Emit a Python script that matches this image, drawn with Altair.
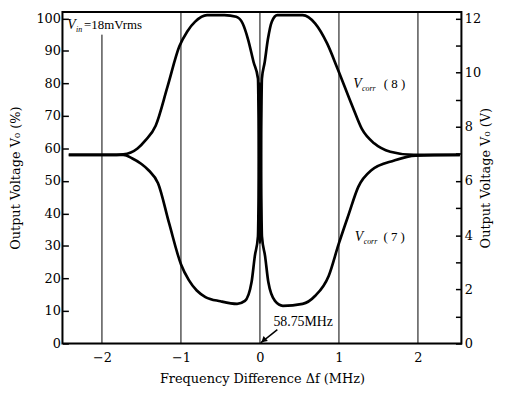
import altair as alt
import pandas as pd

# ---- data ----
f_upper = [-2.42, -1.9, -1.73, -1.55, -1.45, -1.32, -1.17, -1.02, -0.92, -0.82, -0.67, -0.45, -0.3,
           -0.22, -0.15, -0.08, -0.025, 0.0, 0.025, 0.06, 0.1, 0.15, 0.22, 0.54, 0.7, 0.85, 0.98,
           1.17, 1.29, 1.45, 1.65, 1.95, 2.53]
v_upper = [58, 58, 58.2, 60, 62.5, 67, 79, 91.4, 96, 99, 101, 101, 100.5,
           98.5, 93.5, 86.5, 81.5, 31, 81.5, 86.5, 93.5, 99, 101, 101, 98.4, 92.3, 84.7,
           73, 66, 61.5, 59, 58, 58]

f_lower = [-2.42, -1.9, -1.73, -1.62, -1.5, -1.41, -1.29, -1.15, -1.0, -0.9, -0.8, -0.69, -0.5, -0.29,
           -0.19, -0.106, -0.065, -0.025, 0.0, 0.025, 0.065, 0.106, 0.19, 0.29, 0.54, 0.7, 0.87,
           0.995, 1.12, 1.245, 1.41, 1.7, 1.97, 2.53]
v_lower = [58, 58, 58, 57, 55.2, 53.3, 49.3, 37, 24.4, 19.5, 16.3, 14.3, 13, 12.2,
           13.1, 18.9, 26.9, 33, 80, 33, 26.9, 18.9, 13.1, 11.6, 12.2, 14.7, 20.8,
           30.5, 39.5, 48.2, 53.3, 56.3, 57.8, 58]

grid_f = [-2, -1, 0, 1, 2]
grid_top = [95, 102, 102, 102, 102]

x_ticks = [-2, -1, 0, 1, 2]
pct_ticks = list(range(0, 101, 10))
volt_ticks = list(range(0, 13))
x_domain = [-2.5, 2.55]
y_domain = [0, 102]

SERIF = "DejaVu Serif"
TSERIF = "Liberation Serif"

xscale = alt.Scale(domain=x_domain, nice=False, zero=False)
yscale = alt.Scale(domain=y_domain, nice=False, zero=False)

xaxis = alt.Axis(
    values=x_ticks, tickSize=0, domain=False, grid=False, labelFont=SERIF, labelFontSize=13,
    labelColor="black", labelPadding=8, title="Frequency Difference Δf (MHz)",
    titleFont=SERIF, titleFontSize=13, titleFontWeight="normal", titleColor="black",
    titlePadding=8)
yaxis = alt.Axis(
    values=pct_ticks, orient="left", offset=-6, tickSize=6, tickWidth=1.5, tickColor="black",
    domain=False, grid=False, labelFont=SERIF, labelFontSize=13, labelColor="black",
    labelPadding=2, title="Output Voltage V₀ (%)", titleFont=SERIF, titleFontSize=13,
    titleFontWeight="normal", titleColor="black", titlePadding=14)

X = lambda f: alt.X(f, scale=xscale, axis=xaxis)
Y = lambda f: alt.Y(f, scale=yscale, axis=yaxis)

df = pd.concat([
    pd.DataFrame({"x": f_upper, "y": v_upper, "s": "8"}),
    pd.DataFrame({"x": f_lower, "y": v_lower, "s": "7"}),
])

curves = alt.Chart(df).mark_line(color="black", strokeWidth=2.7, interpolate="monotone").encode(
    x=X("x:Q"), y=Y("y:Q"), detail="s:N",
)

grid_df = pd.DataFrame({"x": grid_f, "y": [0] * len(grid_f), "y1": grid_top})
grid = alt.Chart(grid_df).mark_rule(color="black", strokeWidth=1).encode(
    x=X("x:Q"), y=Y("y:Q"), y2="y1:Q",
)

frame_df = pd.DataFrame({"x": [x_domain[0]], "x2": [x_domain[1]], "y": [y_domain[0]], "y2": [y_domain[1]]})
frame = alt.Chart(frame_df).mark_rect(fill=None, stroke="black", strokeWidth=2).encode(
    x=X("x:Q"), x2="x2:Q", y=Y("y:Q"), y2="y2:Q",
)


def txt(xv, yv, t, size=13, italic=False, dx=0, dy=0, font=TSERIF):
    return alt.Chart(pd.DataFrame({"x": [xv], "y": [yv], "t": [t]})).mark_text(
        align="left", baseline="alphabetic", fontSize=size, font=font,
        fontStyle="italic" if italic else "normal", dx=dx, dy=dy, color="black"
    ).encode(x=X("x:Q"), y=Y("y:Q"), text="t:N")


annots = [
    txt(-2.44, 96.8, "V", 14, True),
    txt(-2.44, 96.8, "in", 8, True, dx=9, dy=3),
    txt(-2.44, 96.8, "=18mVrms", 13, dx=17),
    txt(1.18, 78.6, "V", 14, True),
    txt(1.18, 78.6, "corr", 8, True, dx=9, dy=3),
    txt(1.18, 78.6, "( 8 )", 13, dx=31),
    txt(1.2, 31.4, "V", 14, True),
    txt(1.2, 31.4, "corr", 8, True, dx=9, dy=3),
    txt(1.2, 31.4, "( 7 )", 13, dx=29),
    txt(0.17, 5.5, "58.75MHz", 14),
]

arrow_df = pd.DataFrame({"x": [0.22], "y": [4.3], "x2": [0.01], "y2": [0.2]})
arrow_line = alt.Chart(arrow_df).mark_rule(color="black", strokeWidth=1.5).encode(
    x=X("x:Q"), y=Y("y:Q"), x2="x2:Q", y2="y2:Q",
)
head_df = pd.DataFrame({"x": [0.045], "y": [1.0]})
arrow_head = alt.Chart(head_df).mark_point(
    shape="triangle-up", filled=True, color="black", size=45, angle=230, opacity=1
).encode(x=X("x:Q"), y=Y("y:Q"))

left = alt.layer(curves, grid, frame, arrow_line, arrow_head, *annots)

right_df = pd.DataFrame({"v": [0, 12]})
right = alt.Chart(right_df).mark_point(opacity=0).encode(
    y=alt.Y("v:Q", scale=alt.Scale(domain=[0, 12.24], nice=False, zero=False), axis=alt.Axis(
        values=volt_ticks, orient="right", offset=-6, tickSize=6, tickWidth=1.5, tickColor="black",
        domain=False, grid=False, labelFont=SERIF, labelFontSize=13, labelColor="black",
        labelPadding=3, labelExpr="datum.value % 2 === 0 ? datum.label : ''",
        title="Output Voltage V₀ (V)", titleFont=SERIF, titleFontSize=13, titleAngle=270,
        titleFontWeight="normal", titleColor="black", titlePadding=12)),
)

chart = alt.layer(left, right).resolve_scale(y="independent").properties(
    width=403, height=335, autosize="none",
    padding={"left": 55, "top": 2, "right": 40, "bottom": 45},
).configure_view(stroke=None).configure(background="white")

chart.save("out.html", embed_options={"renderer": "svg", "actions": False})
